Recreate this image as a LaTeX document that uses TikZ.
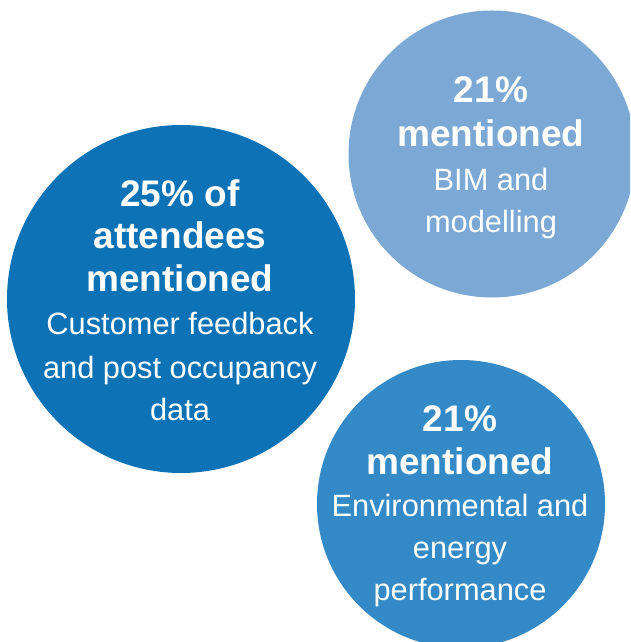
\documentclass[tikz,border=0pt]{standalone}
\usepackage{fontspec}
\setmainfont{Liberation Sans}
\definecolor{cdark}{HTML}{0D72B6}
\definecolor{clight}{HTML}{7BA8D4}
\definecolor{cmid}{HTML}{348AC7}
\begin{document}
\begin{tikzpicture}[x=1pt,y=1pt,
  bubble/.style={circle,inner sep=0pt,draw=none},
  big/.style={anchor=base,text=white,font=\fontsize{37}{43}\selectfont\bfseries,inner sep=0pt},
  small/.style={anchor=base,text=white,font=\fontsize{30.8}{42}\selectfont,inner sep=0pt}]
\useasboundingbox (0,0) rectangle (630,642);
\clip (0,0) rectangle (630,642);
\fill[white] (0,0) rectangle (630,642);
% circles
\node[bubble,fill=cdark,minimum size=348pt] (cL) at (181,343) {};
\node[bubble,fill=clight,minimum size=287pt] (cT) at (492,488) {};
\node[bubble,fill=cmid,minimum size=288pt] (cB) at (461,138) {};
% left texts
\node[big] (l1) at (180,435.3) {25\% of};
\node[big] (l2) at (180,393) {attendees};
\node[big] (l3) at (180,350.3) {mentioned};
\node[small] (l4) at (180,307.5) {Customer feedback};
\node[small] (l5) at (180,263.5) {and post occupancy};
\node[small] (l6) at (180,221) {data};
% top right texts
\node[big] (t1) at (491,539) {21\%};
\node[big] (t2) at (491,495.3) {mentioned};
\node[small] (t3) at (491,451.7) {BIM and};
\node[small] (t4) at (491,409.3) {modelling};
% bottom right texts
\node[big] (b1) at (460,210.3) {21\%};
\node[big] (b2) at (460,167.7) {mentioned};
\node[small] (b3) at (460,125.3) {Environmental and};
\node[small] (b4) at (460,83) {energy};
\node[small] (b5) at (460,41) {performance};
\end{tikzpicture}
\end{document}
